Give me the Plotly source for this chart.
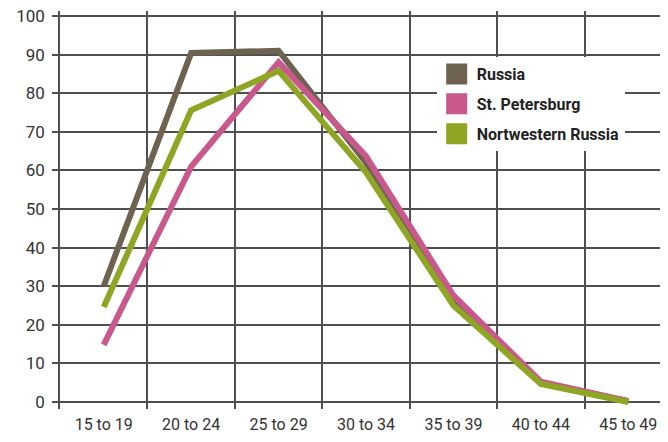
import plotly.graph_objects as go

ages = ["15 to 19", "20 to 24", "25 to 29", "30 to 34", "35 to 39", "40 to 44", "45 to 49"]

series = {
    "Russia": [30, 90.4, 91, 62, 26, 5, 0.2],
    "St. Petersburg": [14.8, 61, 88, 63.7, 27.6, 5.3, 0.2],
    "Nortwestern Russia": [24.6, 75.6, 85.8, 59.5, 25, 4.7, 0],
}
colors = {
    "Russia": "#6e6250",
    "St. Petersburg": "#c9588c",
    "Nortwestern Russia": "#8fa624",
}

fig = go.Figure()
for name, vals in series.items():
    fig.add_trace(go.Scatter(x=ages, y=vals, mode="lines", name=name,
                             line=dict(color=colors[name], width=6),
                             showlegend=False))
# square swatches for the legend
for name in series:
    fig.add_trace(go.Scatter(x=[None], y=[None], mode="markers", name=name,
                             legendgroup=name,
                             marker=dict(symbol="square", size=16, color=colors[name],
                                         line=dict(color=colors[name], width=5))))

grid = "#4f4f4f"
# page body has a default margin, so the margins are trimmed to compensate
fig.update_layout(
    width=668, height=442,
    margin=dict(l=52, r=4, t=3, b=41),
    plot_bgcolor="white", paper_bgcolor="white",
    font=dict(family="Roboto", color="#333333"),
    legend=dict(x=0.6155, y=0.884, xanchor="left", yanchor="top",
                bgcolor="white",
                font=dict(size=16, color="#222222", family="Roboto", weight="bold"),
                itemsizing="trace", tracegroupgap=6),
)
fig.update_xaxes(type="category", range=[-0.5, 6.5], tickson="boundaries",
                 showgrid=True, gridcolor=grid, gridwidth=1.5, ticks="",
                 tickfont=dict(size=16), ticklabelstandoff=4, zeroline=False,
                 automargin=False)
fig.update_yaxes(range=[-1.81, 101.3], tickvals=list(range(0, 101, 10)),
                 showgrid=True, gridcolor=grid, gridwidth=1.5, zeroline=False,
                 ticks="outside", ticklen=6, tickcolor=grid, tickwidth=1.5,
                 showline=True, linecolor=grid, linewidth=1.5,
                 tickfont=dict(size=17), ticklabelstandoff=4, automargin=False,
                 ticklabeloverflow="allow")

fig.write_html("out.html")
